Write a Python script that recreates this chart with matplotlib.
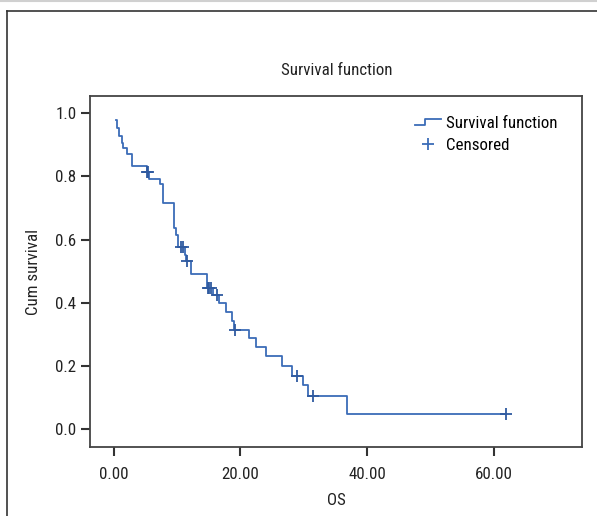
import matplotlib
matplotlib.use("Agg")
import matplotlib.pyplot as plt
from matplotlib import font_manager
from matplotlib.lines import Line2D
from matplotlib.legend_handler import HandlerBase

# ---------------- data ----------------
start_time = 0.35
start_surv = 0.98
event_times = [0.6, 0.8, 1.3, 1.55, 2.1, 2.9, 5.2, 5.6, 7.4, 7.75, 9.5, 9.8, 10.1,
               11.25, 11.5, 12.15, 14.8, 15.7, 16.7, 17.7, 18.6, 19.0, 21.4, 22.4,
               24.0, 26.6, 28.2, 29.9, 30.7, 36.85]
event_surv = [0.953, 0.927, 0.906, 0.889, 0.872, 0.832, 0.813, 0.793, 0.776, 0.717,
              0.636, 0.614, 0.578, 0.552, 0.532, 0.491, 0.448, 0.424, 0.400, 0.371,
              0.343, 0.315, 0.287, 0.259, 0.231, 0.201, 0.169, 0.138, 0.104, 0.049]
end_time = 61.9
censor_times = [5.3, 5.45, 10.6, 10.9, 11.6, 14.85, 15.1, 15.4, 16.3, 19.1, 29.0, 31.4, 61.9]
censor_surv = [0.813, 0.813, 0.578, 0.578, 0.532, 0.448, 0.448, 0.448, 0.424, 0.315,
               0.169, 0.104, 0.049]
x_ticks = [0, 20, 40, 60]
x_tick_labels = ["0.00", "20.00", "40.00", "60.00"]
y_ticks = [0.0, 0.2, 0.4, 0.6, 0.8, 1.0]
y_tick_labels = ["0.0", "0.2", "0.4", "0.6", "0.8", "1.0"]

# ---------------- font ----------------
names = {f.name for f in font_manager.fontManager.ttflist}
chosen = None
for cand in ["Liberation Sans Narrow", "Roboto Condensed", "Open Sans Condensed", "Noto Sans Condensed"]:
    if cand in names:
        chosen = cand
        break
if chosen is None:
    chosen = "DejaVu Sans"
    plt.rcParams["font.stretch"] = "condensed"
plt.rcParams["font.family"] = [chosen, "DejaVu Sans"]

FS = 12.2
LINE_C = "#3b6cb8"
CENS_C = "#2f5aa0"
DARK = "#333333"

fig = plt.figure(figsize=(5.97, 5.16), dpi=100)
ax = fig.add_axes([90.3 / 597, 1 - 447 / 516, 492 / 597, (447 - 96.3) / 516])

xs = [start_time] + event_times + [end_time]
ys = [start_surv] + event_surv + [event_surv[-1]]
ax.step(xs, ys, where="post", color=LINE_C, lw=1.3)
ax.plot(censor_times, censor_surv, linestyle="none", marker="+", markersize=9,
        markeredgewidth=1.3, color=CENS_C)

ax.set_xlim(-3.66, 73.9)
ax.set_ylim(-0.057, 1.054)
ax.set_xticks(x_ticks)
ax.set_xticklabels(x_tick_labels)
ax.set_yticks(y_ticks)
ax.set_yticklabels(y_tick_labels)
ax.tick_params(axis="both", direction="out", length=6.5, width=1.5, color=DARK,
               labelsize=FS, labelcolor="#222222")
ax.tick_params(axis="x", pad=8)
ax.tick_params(axis="y", pad=3.5)
for s in ax.spines.values():
    s.set_color("#444444")
    s.set_linewidth(1.3)

ax.set_title("Survival function", fontsize=FS, color="#222222", pad=15)
ax.set_xlabel("OS", fontsize=FS, color="#222222", labelpad=8)
ax.set_ylabel("Cum survival", fontsize=FS, color="#222222", labelpad=10)


class StepHandler(HandlerBase):
    def create_artists(self, legend, orig_handle, xdescent, ydescent, width, height,
                       fontsize, trans):
        x0 = -xdescent
        xm = x0 + width * 0.38
        x1 = x0 + width
        ylo = -ydescent + height * 0.2
        yhi = -ydescent + height * 0.7
        ln = Line2D([x0, xm, xm, x1], [ylo, ylo, yhi, yhi], color=LINE_C, lw=1.3)
        ln.set_transform(trans)
        return [ln]


h_step = Line2D([], [], color=LINE_C)
h_cens = Line2D([], [], linestyle="none", marker="+", markersize=9,
                markeredgewidth=1.3, color=LINE_C)
ax.legend([h_step, h_cens], ["Survival function", "Censored"],
          handler_map={h_step: StepHandler()}, frameon=False, fontsize=FS,
          loc="upper left", bbox_to_anchor=(0.66, 0.945), handlelength=1.55,
          handletextpad=0.3, labelspacing=0.42, borderaxespad=0, borderpad=0)

# outer frame of the figure
fig.add_artist(Line2D([6.5 / 597, 6.5 / 597], [0, 1 - 10.5 / 516], color="#333333",
                      lw=1.2, transform=fig.transFigure))
fig.add_artist(Line2D([6.5 / 597, 1], [1 - 10.5 / 516, 1 - 10.5 / 516], color="#333333",
                      lw=1.2, transform=fig.transFigure))
fig.add_artist(Line2D([0, 1], [1 - 1 / 516, 1 - 1 / 516], color="#d0d0d0",
                      lw=1.5, transform=fig.transFigure))

fig.savefig("out.png", dpi=100)
